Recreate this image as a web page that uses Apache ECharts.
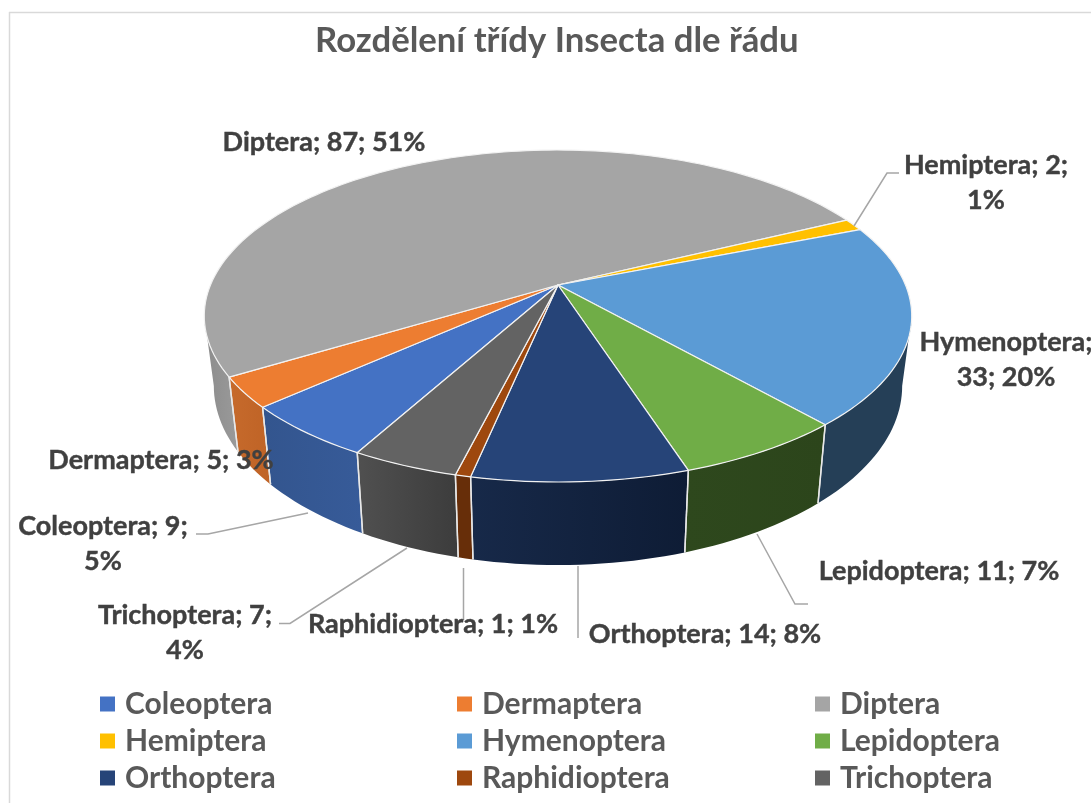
<!DOCTYPE html>
<html><head><meta charset="utf-8">
<style>html,body{margin:0;padding:0;background:#fff}#c{width:1091px;height:803px}</style>
<script src="https://cdn.jsdelivr.net/npm/echarts@6/dist/echarts.min.js"></script>
</head><body><div id="c"></div>
<script>
const titleText = 'Rozdělení třídy Insecta dle řádu';
const categories = ['Coleoptera','Dermaptera','Diptera','Hemiptera','Hymenoptera','Lepidoptera','Orthoptera','Raphidioptera','Trichoptera'];
const values = [9,5,87,2,33,11,14,1,7];
const topColors = ['#4472C4','#ED7D31','#A5A5A5','#FFC000','#5B9BD5','#70AD47','#264478','#9E480E','#636363'];
const wallLeft  = ['#33558E','#C66A2C','#8C8C8C','#BF9000','#253F57','#2E481D','#172949','#672E09','#505050'];
const wallRight = ['#375B99','#BF6326','#9A9A9A','#BF9000','#253F57','#2C451B','#0E1C35','#672E09','#3C3C3C'];
const firstSliceAngle = 208.9;
// label layout: [category index, centre x, centre y of first line, line break mode]
const labelLayout = [
  [0,103,526,'pct'],[1,161,460,''],[2,324,142,''],[3,986,165,'pct'],[4,1006,342,'val'],
  [5,939,571,''],[6,705,634,''],[7,433,624,''],[8,185,615,'pct']];
const leaders = [
  [[196,534],[208,534],[308,513]],
  [[279,623.5],[290,623.5],[407,548]],
  [[463.5,568],[463.5,620]],
  [[578,566],[578,638]],
  [[757,534],[795,604],[808,604]],
  [[854,226],[887,173],[899,173]]];
const FONT = 'Lato, "Open Sans", sans-serif';
const total = values.reduce((a,b)=>a+b,0);
// projection of the tilted disc
const CX=558, CY=285, K=0.1868, A=347.5, B=160.2, DEPTH=67.5, SHRINK=0.973;
const FRONT_FROM=100.8, FRONT_TO=259.2; // part of the rim whose wall faces the viewer
function rim(angleDeg, bottom){
  const t=angleDeg*Math.PI/180, u=Math.sin(t), v=-Math.cos(t), w=1-K*v;
  return bottom ? [CX+SHRINK*A*u/w, CY+B*v/w+DEPTH/w] : [CX+A*u/w, CY+B*v/w];
}
function arc(a0,a1,bottom){
  const n=Math.max(2,Math.ceil(Math.abs(a1-a0)/1.5)), p=[];
  for(let i=0;i<=n;i++) p.push(rim(a0+(a1-a0)*i/n,bottom));
  return p;
}
function renderSlice(i){
  return function(params,api){
    const start=api.value(1), end=start+api.value(0)/total*360;
    const topArc=arc(start,end,false);
    const children=[{type:'polygon',z2:10,shape:{points:[[CX,CY]].concat(topArc)},
       style:{fill:topColors[i],stroke:'#F2F2F2',lineWidth:1.2,lineJoin:'round'}}];
    [0,360].forEach(turn=>{
      const lo=Math.max(start,FRONT_FROM+turn), hi=Math.min(end,FRONT_TO+turn);
      if(hi<=lo) return;
      const t=arc(lo,hi,false), b=arc(lo,hi,true), xs=t.concat(b).map(p=>p[0]);
      children.push({type:'polygon',z2:1,shape:{points:t.concat(b.slice().reverse())},
        style:{fill:{type:'linear',x:Math.min(...xs),y:0,x2:Math.max(...xs),y2:0,global:true,
          colorStops:[{offset:0,color:wallLeft[i]},{offset:1,color:wallRight[i]}]}}});
      [[lo,start],[hi,end]].forEach(([a,edge])=>{
        if(a===edge){
          const p=rim(a,false), q=rim(a,true);
          children.push({type:'line',z2:3,shape:{x1:p[0],y1:p[1],x2:q[0],y2:q[1]},style:{stroke:'#E8E8E8',lineWidth:1.4}});
        }
      });
    });
    return {type:'group',children};
  };
}
let cum=firstSliceAngle;
const series=categories.map((name,i)=>{
  const s={type:'custom',name,coordinateSystem:'none',silent:true,animation:false,
    itemStyle:{color:topColors[i]},data:[[values[i],cum]],renderItem:renderSlice(i)};
  cum+=values[i]/total*360;
  return s;
});
const labelEls=labelLayout.map(([i,x,y,brk])=>{
  const pct=Math.round(values[i]/total*100)+'%';
  let text=categories[i]+'; '+values[i]+'; '+pct;
  if(brk==='val') text=categories[i]+';\n'+values[i]+'; '+pct;
  if(brk==='pct') text=categories[i]+'; '+values[i]+';\n'+pct;
  return {type:'text',z:50,x,y:y-17,style:{text,font:'bold 27px '+FONT,fill:'#404040',stroke:'#404040',lineWidth:0.4,align:'center',verticalAlign:'top',lineHeight:35}};
});
const leaderEls=leaders.map(points=>({type:'polyline',z:40,shape:{points},style:{fill:null,stroke:'#A6A6A6',lineWidth:1.5}}));
const frame=[
  {type:'line',z:1,shape:{x1:9,y1:12.5,x2:1091,y2:12.5},style:{stroke:'#D9D9D9',lineWidth:1.5}},
  {type:'line',z:1,shape:{x1:9.5,y1:12,x2:9.5,y2:803},style:{stroke:'#D9D9D9',lineWidth:1.5}}];
const legendBase=(left,idx)=>({left,top:689,padding:0,orient:'vertical',icon:'rect',itemWidth:15,itemHeight:15,itemGap:7,
  data:idx.map(i=>categories[i]),selectedMode:false,
  textStyle:{fontFamily:FONT,fontWeight:'bold',fontSize:30,color:'#595959',padding:[0,0,0,5],lineHeight:30}});
const chart=echarts.init(document.getElementById('c'),null,{renderer:'canvas'});
chart.setOption({
  backgroundColor:'#fff',animation:false,
  title:{text:titleText,left:310,top:18,textStyle:{fontFamily:FONT,fontWeight:'bold',fontSize:34.7,color:'#595959'}},
  legend:[legendBase(100,[0,3,6]),legendBase(457,[1,4,7]),legendBase(815,[2,5,8])],
  graphic:frame.concat(leaderEls,labelEls),
  series
});
</script></body></html>
